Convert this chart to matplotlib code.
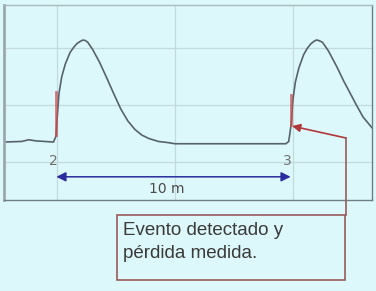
import matplotlib.pyplot as plt
from matplotlib.lines import Line2D
from matplotlib.patches import Rectangle

# traza OTDR (distancia en m, nivel relativo)
dist = [2.75, 3.5, 3.8, 4.1, 4.85, 4.95, 5.0, 5.08, 5.2, 5.35, 5.55, 5.7, 5.85, 6.0, 6.1,
        6.2, 6.3, 6.5, 6.8, 7.1, 7.4, 7.7, 8.0, 8.3, 8.6, 8.9, 9.3, 9.7, 10.0, 14.7,
        14.82, 14.92, 15.0, 15.1, 15.25, 15.45, 15.6, 15.75, 15.9, 16.0, 16.1, 16.25,
        16.5, 16.86, 17.15, 17.42, 17.7, 17.97, 18.35]
level = [0.35, 0.36, 0.39, 0.37, 0.35, 0.45, 0.75, 1.2, 1.5, 1.72, 1.92, 2.01, 2.08, 2.12, 2.14,
         2.13, 2.1, 1.98, 1.75, 1.48, 1.2, 0.93, 0.72, 0.57, 0.47, 0.41, 0.36, 0.34, 0.32, 0.32,
         0.36, 0.65, 1.1, 1.4, 1.65, 1.88, 1.99, 2.07, 2.12, 2.14, 2.13, 2.1,
         1.95, 1.67, 1.42, 1.21, 0.99, 0.79, 0.6]

events = [4.97, 14.9]          # eventos detectados
event_labels = ['2', '3']
event_lo = [0.47, 0.65]
event_hi = [1.23, 1.18]
span_label = '10 m'
note = 'Evento detectado y\npérdida medida.'

bg = '#ddf8fa'
W, H = 376, 291

fig = plt.figure(figsize=(W / 100, H / 100), dpi=100, facecolor=bg)
ax = fig.add_axes([4 / W, (H - 200) / H, 368 / W, 195 / H], facecolor=bg)

ax.plot(dist, level, color='#56626c', linewidth=1.2)
for x, lo, hi in zip(events, event_lo, event_hi):
    ax.plot([x, x], [lo, hi], color='#c85050', linewidth=2.0, alpha=0.75)

ax.set_xlim(2.75, 18.35)
ax.set_ylim(-0.667, 2.754)
ax.set_xticks([5, 10, 15])
ax.set_yticks([0, 1, 2])
ax.tick_params(length=0, labelbottom=False, labelleft=False)
ax.grid(True, color='#c3dadd', linewidth=0.9)
for side, sp in ax.spines.items():
    sp.set_color('#6f7e84')
    sp.set_linewidth(1.0)
ax.spines['left'].set_linewidth(2.0)
ax.spines['left'].set_color('#9aa8ac')
ax.spines['top'].set_color('#a8b8bc')

# flecha de distancia
ax.annotate('', xy=(events[0], -0.26), xytext=(events[1], -0.26),
            arrowprops=dict(arrowstyle='<|-|>', color='#2c2ca0', lw=1.1,
                            mutation_scale=14, shrinkA=0, shrinkB=0))
for x, lab in zip(events, event_labels):
    ax.text(x - 0.12, 0.02, lab, fontsize=10, color='#707070', ha='center', va='center')
ax.text(9.66, -0.47, span_label, fontsize=10, color='#4a4a4a', ha='center', va='center')

# cuadro de nota
box = Rectangle((117 / W, (H - 280) / H), 228 / W, 65 / H, transform=fig.transFigure,
                facecolor='none', edgecolor='#9a5a5a', linewidth=1.2)
fig.patches.append(box)
fig.text(123 / W, (H - 242) / H, note, fontsize=13.5, color='#3a3a3a',
         ha='left', va='center', linespacing=1.5, family='Liberation Sans')
fig.add_artist(Line2D([346 / W, 346 / W], [(H - 215) / H, (H - 138) / H],
                      transform=fig.transFigure, color='#9a5a5a', linewidth=1.2))
ax.annotate('', xy=(events[1] + 0.06, 0.63), xycoords='data',
            xytext=(346 / W, (H - 138) / H), textcoords='figure fraction',
            arrowprops=dict(arrowstyle='-|>', color='#b03838', lw=1.2,
                            mutation_scale=12, shrinkA=0, shrinkB=0),
            annotation_clip=False)

fig.savefig('out.png', dpi=100, facecolor=bg)
